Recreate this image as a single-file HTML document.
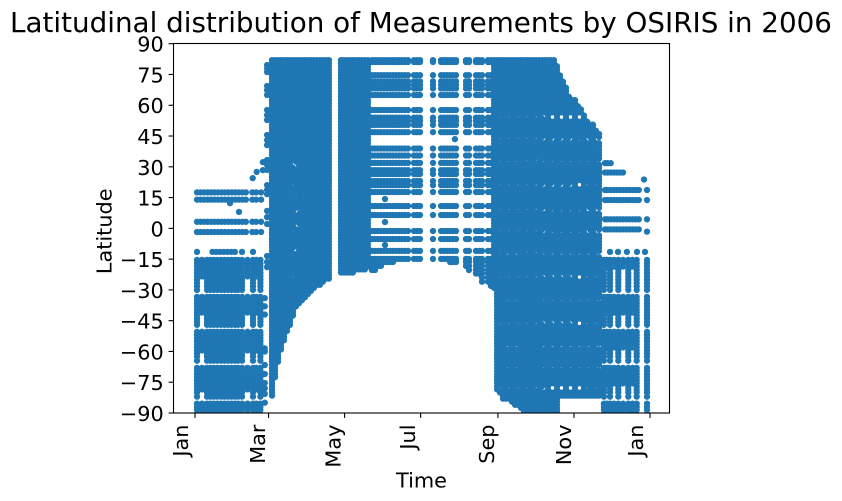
<!DOCTYPE html>
<html lang="en">
<head>
<meta charset="utf-8">
<title>Latitudinal distribution of Measurements by OSIRIS in 2006</title>
<style>
html,body{margin:0;padding:0;background:#fff;}
svg{display:block;}
text{font-family:"DejaVu Sans","Liberation Sans",sans-serif;fill:#000;}
</style>
</head>
<body>
<svg id="chart" width="842" height="501" viewBox="0 0 842 501" xmlns="http://www.w3.org/2000/svg">
  <defs><clipPath id="plot-clip"><rect x="173.5" y="43.5" width="496" height="369.5"></rect></clipPath></defs>
  <rect x="173.5" y="43.5" width="496" height="369.5" fill="#fff"></rect>
  <g id="points" clip-path="url(#plot-clip)" fill="#1f77b4"></g>
  <g id="x-axis"></g>
  <g id="y-axis"></g>
  <rect x="173.5" y="43.5" width="496" height="369.5" fill="none" stroke="#000" stroke-width="1.1"></rect>
  <text x="421" y="32" font-size="27.78" text-anchor="middle">Latitudinal distribution of Measurements by OSIRIS in 2006</text>
  <text x="421.5" y="487.5" font-size="20.83" text-anchor="middle">Time</text>
  <text transform="translate(111.5,231.3) rotate(-90)" font-size="20.83" text-anchor="middle">Latitude</text>
</svg>
<script>
// Axis data
const xTickDays = [0, 59, 120, 181, 243, 304, 365];
const xTickLabels = ["Jan", "Mar", "May", "Jul", "Sep", "Nov", "Jan"];
const yTickValues = [90, 75, 60, 45, 30, 15, 0, -15, -30, -45, -60, -75, -90];

// Latitude rows (degrees)
const denseLats = [82,80.5,79,77.5,76,74.5,73,71.5,70,68.5,67,65.5,64,62.5,61,59.5,58,56.5,55,53.5,52,50.5,49,47.5,46,44.5,43,41.5,40,38.5,37,35.5,34,32.5,31,29.5,28,26.5,25,23.5,22,20.5,19,17.5,16,14.5,13,11.5,10,8.5,7,5.5,4,2.5,1,-0.5,-2,-3.5,-5,-6.5,-8,-9.5,-11,-12.5,-14,-15.5,-17,-18.5,-20,-21.5,-23,-24.5,-26,-27.5,-29,-30.5,-32,-33.5,-35,-36.5,-38,-39.5,-41,-42.5,-44,-45.5,-47,-48.5,-50,-51.5,-53,-54.5,-56,-57.5,-59,-60.5,-62,-63.5,-65,-66.5,-68,-69.5,-71,-72.5,-74,-75.5,-77,-78.5,-80,-81.5,-83,-84.5,-86,-87.5,-89,-90.5];
const winterBandLats = [-15.4,-17,-18.6,-20.2,-21.8,-23.4,-25,-26.6,-28.2,-30,-33.4,-35,-36.5,-38,-39.5,-41,-42.5,-44,-45.5,-47,-50.4,-52,-53.5,-55,-56.5,-58,-59.5,-61,-62.5,-64.5,-68,-69.5,-71,-72.5,-74,-75.5,-77,-78.5,-80,-82,-85.4,-87,-88.5,-90.5];
const winterFillLats = [-15.4,-17,-18.6,-20.2,-21.8,-23.4,-33.4,-35,-36.5,-38,-39.5,-41,-50.4,-52,-53.5,-55,-56.5,-58,-59.5,-68,-69.5,-71,-72.5,-74,-75.5,-77,-78.5,-85.4,-87,-88.5,-90.5];
const decemberFillLats = [-15.4,-17,-18.6,-33.4,-35,-36.5,-38,-39.5,-41,-50.4,-52,-53.5,-55,-56.5,-58,-68,-69.5,-71,-72.5,-74,-75.5,-85.4,-87,-88.5,-90.5];
const winterUpperLats = [17.5, 14, 3.2, -1.8];
const decemberUpperLats = [18.7, 13.8, 4.4, -0.5];
const summerRowLats = [82,81.1,74.7,71.6,69.9,68.2,65,57.7,54,52.3,50.4,46.9,38.9,35.5,31.9,28.4,26.5,23.1,21.1,17.7,10.9,6.5,-1.3,-5.2,-11,-14.9,-16.4,-18.3,-20.3,-22,-24,-26,-28];

// January–February swath
const winterSolidDays = [1.6,9.6,12.4,15.2,18,20.9,23.7,26.5,29.3,32.1,34.5,37.7,46.5,52.5];
const winterFillDays = [5.6,42.1,49.2];
const winterUpperDays = [1.6,4.4,7.2,10,12.8,15.6,18.4,21.2,24,26.8,29.6,32.4,35.2,38,40.8,46,49,53];
const winterLowRowDays = [1.6,14,17,20,23,26,29,32,37.7,46.5];
const winterLowRowLats = [-11.5];

// Edge of the March swath
const marchUpperEdgeDay = [57.8];
const marchUpperEdgeLats = [79.6,78,76.2,69.4,67.4,65,57.7,55.2,52.8,45.5,43,40.6,33.3,30.9,28.5,21.1,18.7,16.7,8.5,5.5,2.1,-13.5,-16.4,-18.9];
const marchLowerEdgeDay = [56];
const marchLowerEdgeLats = [-34,-38,-42,-58.5,-60,-66.6,-71,-75.4,-78,-80.7,-85];

// March–April swath
const marchDays = [61.8,64.2,66.6,69,71.4,73.8,76.2,78.6,81,83.4,85.8,88.2,90.6,93,95.4,97.8,100.2,102.6,105,107.4];
const marchLows = [-82.2,-72.5,-66,-59.3,-55.4,-50.5,-48,-43,-39.3,-37.4,-35.4,-33.9,-32.5,-31.5,-30,-28.6,-27.6,-26.6,-25.7,-24.7];
const marchGapDays = [78.6,78.6,81,78.6,81,78.6,81.8,81.8,78.6,80.2,78.6,78.6];
const marchGapLats = [43.1,31.9,29.9,21.1,16.3,9.9,8,1.6,-1.3,-10.6,-23.3,-34.9];

// May–June swath
const mayDays = [117.1,119.5,121.9,124.3,126.7,129.1,131.5,133.9,136.3,138.7];
const mayLows = [-22.5,-22,-22,-21.5,-21.5,-21,-21,-20.5,-20,-19];

// June–July rows
const juneDays = [142,144.4,146.8,149.2,151.6,154,156.4,158.8,161.2,163.6,166,168.4,170.9];
const juneLows = [-20.5,-20.5,-19,-18.5,-17,-17,-16.5,-16.5,-16,-16,-15.5,-15.5,-15];

// July–August columns
const augustDays = [175.7,178.1,180.5,190.9,197.4,199.8,202.2,204.6,207,209.4,217.4,219.8,225.4,227.8,230.2];
const augustLows = [-15.4,-15.4,-15.4,-15.4,-15.4,-15.4,-15.4,-16.4,-16.4,-16.4,-18.5,-20.3,-22,-22,-26];

// Start of the September swath
const lateAugustDays = [235,237.4];
const lateAugustLows = [-27,-29];

// September–November swath
const autumnDays = [239.9,242.3,244.7,247.1,249.5,251.9,254.3,256.7,259.1,261.5,263.9,266.3,268.7,271.1,273.5,276,278.4,280.8,283.2,285.6,288,290.4,292.8,295.2,297.6,300,302.4,304.8,307.2,309.6,312,314.5,316.9,319.3,321.7,324.1];
const autumnHighs = [82,82,82,82,82,82,82,82,82,82,82,82,82,82,82,82,82,82,82,82,82,79.5,75,72,68.5,65,62.5,62.5,60,58,55,52.5,51.5,50.5,48,46.5];
const autumnLows = [-30,-79,-81,-83,-83.5,-84,-85,-86,-87,-88,-89,-91,-91,-91,-91,-91,-91,-91,-91,-91,-91,-91,-82,-82,-82,-82,-82,-82,-82,-82,-82,-82,-82,-82,-82,-82];
const autumnGapDays = [244.7,251.4,258.6,266.1,273.4,280,287,294.2,301.5,308.4,315.1,322.3];
const autumnGapLats = [54.3,43.5,32.8,21.1,8.9,-1.6,-12.2,-23.6,-34.9,-46.1,-57.3,-68.1,-77.8];

// December swath
const decemberSolidDays = [328,332.9,339.6,347.6,354.3];
const decemberFillDays = [330.5,336.1,343.3,351];
const decemberUpperDays = [328.9,331,333.5,336,338.5,341,343.5,346,348.5,351,353.5,356];
const decemberThirtyDays = [328.9,331,333.5];
const decemberTwentyEightDays = [328.9,331,333.5,336,338.5,341,343.3];
const decemberLowRowDays = [332.9,339.3,346.5,354.6,361];
const decemberLastDay = [362.6];
const decemberLastLats = [18.7,13.8,4.4,-1.6];

// Isolated measurements
const strayDays = [46.3,49.5,35.3,28.1,152.4,152.4,152.4,360.2,54.5,54.5,208.5];
const strayLats = [24.5,27.5,8,12.3,14.3,3.1,-8.1,23.8,32.3,28.4,43.5];

const NS = 'http://www.w3.org/2000/svg';
const plotLeft = 173.5, plotBottom = 413;
function xScale(day) { return 195 + day * 1.2466; }
function yScale(lat) { return 228.35 - lat * 2.0517; }

const pointLayer = document.getElementById('points');
function addPoint(day, lat) {
  const c = document.createElementNS(NS, 'circle');
  c.setAttribute('cx', xScale(day).toFixed(1));
  c.setAttribute('cy', yScale(lat).toFixed(1));
  c.setAttribute('r', '3.15');
  
  
  pointLayer.appendChild(c);
}
function nearGap(day, lat, gapDay, gapLat) {
  const dx = xScale(day) - xScale(gapDay);
  const dy = yScale(lat) - yScale(gapLat);
  return dx * dx + dy * dy < 6.2;
}
function drawColumns(days, lats, lows, highs, isGap) {
  days.forEach(function (day, i) {
    const low = lows ? lows[i] : -999;
    const high = highs ? highs[i] : 999;
    lats.forEach(function (lat) {
      if (lat >= low && lat <= high && !(isGap && isGap(day, lat))) addPoint(day, lat);
    });
  });
}
function inMarchGap(day, lat) {
  return marchGapDays.some(function (gapDay, i) { return nearGap(day, lat, gapDay, marchGapLats[i]); });
}
function inAutumnGap(day, lat) {
  return autumnGapDays.some(function (gapDay) {
    return autumnGapLats.some(function (gapLat) { return nearGap(day, lat, gapDay, gapLat); });
  });
}

drawColumns(winterSolidDays, winterBandLats);
drawColumns(winterFillDays, winterFillLats);
drawColumns(winterUpperDays, winterUpperLats);
drawColumns(winterLowRowDays, winterLowRowLats);
drawColumns(marchUpperEdgeDay, marchUpperEdgeLats);
drawColumns(marchLowerEdgeDay, marchLowerEdgeLats);
drawColumns(marchDays, denseLats, marchLows, null, inMarchGap);
drawColumns(mayDays, denseLats, mayLows);
drawColumns(juneDays, summerRowLats, juneLows);
drawColumns(augustDays, summerRowLats, augustLows);
drawColumns(lateAugustDays, summerRowLats, lateAugustLows);
drawColumns(autumnDays, denseLats, autumnLows, autumnHighs, inAutumnGap);
drawColumns(decemberSolidDays, winterBandLats);
drawColumns(decemberFillDays, decemberFillLats);
drawColumns(decemberUpperDays, decemberUpperLats);
drawColumns(decemberThirtyDays, [31.8]);
drawColumns(decemberTwentyEightDays, [27.2]);
drawColumns(decemberLowRowDays, [-11.5]);
drawColumns(decemberLastDay, decemberLastLats);
drawColumns(decemberLastDay, winterBandLats);
strayDays.forEach(function (day, i) { addPoint(day, strayLats[i]); });

// Axes
const xAxis = document.getElementById('x-axis');
const labelBaselineShift = { Jan: 7, Jul: 5.7, May: 4, Sep: 4, Mar: 3.5, Nov: 3 };
xTickDays.forEach(function (day, i) {
  const x = xScale(day);
  const tick = document.createElementNS(NS, 'line');
  tick.setAttribute('x1', x); tick.setAttribute('x2', x);
  tick.setAttribute('y1', plotBottom); tick.setAttribute('y2', plotBottom + 4.9);
  tick.setAttribute('stroke', '#000'); tick.setAttribute('stroke-width', '1.1');
  
  
  xAxis.appendChild(tick);
  const label = document.createElementNS(NS, 'text');
  const shift = labelBaselineShift[xTickLabels[i]] || 3;
  label.setAttribute('transform', 'translate(' + (x - shift) + ',424.5) rotate(-90)');
  label.setAttribute('font-size', '20.83');
  label.setAttribute('text-anchor', 'end');
  
  
  label.textContent = xTickLabels[i];
  xAxis.appendChild(label);
});
const yAxis = document.getElementById('y-axis');
yTickValues.forEach(function (value) {
  const y = yScale(value);
  const tick = document.createElementNS(NS, 'line');
  tick.setAttribute('x1', plotLeft - 4.9); tick.setAttribute('x2', plotLeft);
  tick.setAttribute('y1', y); tick.setAttribute('y2', y);
  tick.setAttribute('stroke', '#000'); tick.setAttribute('stroke-width', '1.1');
  
  
  yAxis.appendChild(tick);
  const label = document.createElementNS(NS, 'text');
  label.setAttribute('x', '163.8');
  label.setAttribute('y', (y + 8).toFixed(1));
  label.setAttribute('font-size', '20.83');
  label.setAttribute('text-anchor', 'end');
  
  
  label.textContent = String(value).replace('-', '\u2212');
  yAxis.appendChild(label);
});
</script>
</body>
</html>
